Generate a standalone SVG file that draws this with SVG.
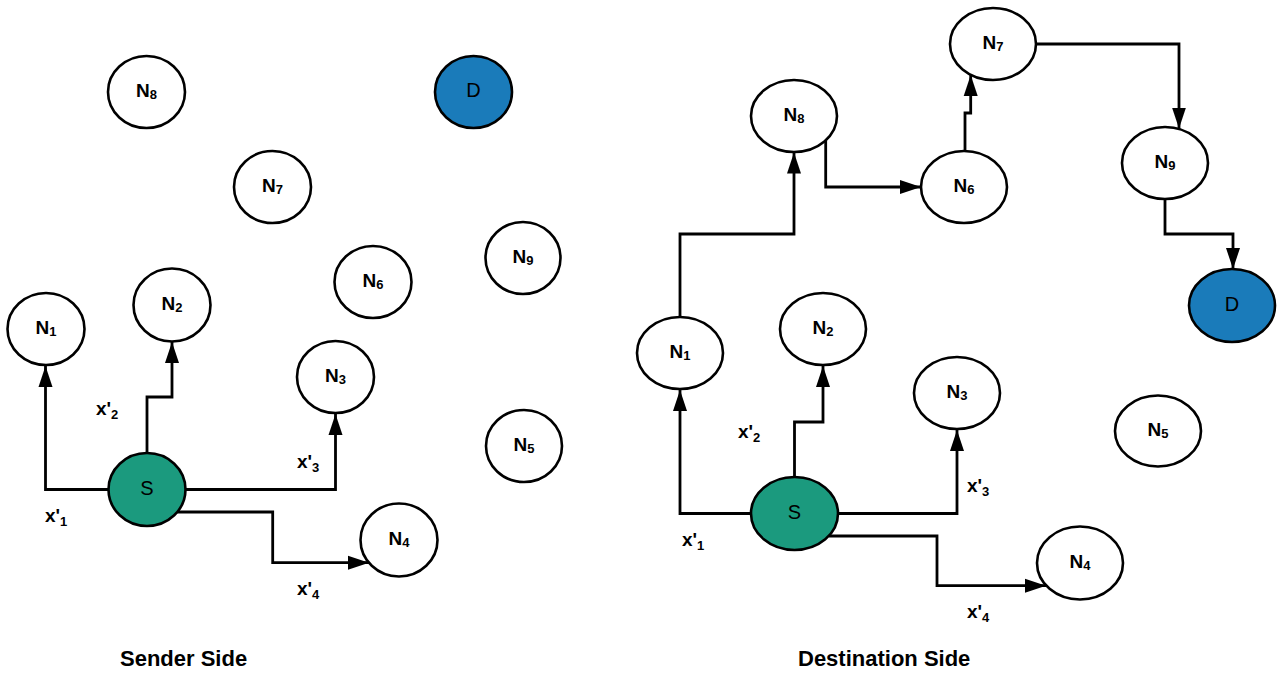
<svg xmlns="http://www.w3.org/2000/svg" width="1280" height="673" viewBox="0 0 1280 673">
<style>
.n{fill:#fff;stroke:#000;stroke-width:2.6}
.s{fill:#1b9a7e;stroke:#000;stroke-width:2.6}
.d{fill:#1a7bba;stroke:#000;stroke-width:2.6}
.t{font-family:"Liberation Sans",Arial,sans-serif;font-weight:bold;font-size:19px;fill:#000}
.t tspan.sub{font-size:13px}
.r{font-family:"Liberation Sans",Arial,sans-serif;font-size:20px;fill:#000}
.c{fill:none;stroke:#000;stroke-width:2.8;marker-end:url(#ah)}
.title{font-family:"Liberation Sans",Arial,sans-serif;font-weight:bold;font-size:22px;fill:#000}
</style>
<defs>
<marker id="ah" markerUnits="userSpaceOnUse" markerWidth="22" markerHeight="16" refX="21" refY="7" orient="auto" viewBox="0 0 22 14">
<path d="M0,0 L21,7 L0,14 z" fill="#000"/>
</marker>
</defs>
<rect width="1280" height="673" fill="#fff"/>

<g id="connectors">
<polyline class="c" points="109,489.5 45.5,489.5 45.5,366"/>
<polyline class="c" points="147,453 147,397 172,397 172,342"/>
<polyline class="c" points="185.5,489.5 335.5,489.5 335.5,414"/>
<polyline class="c" points="177.3,512 272.7,512 272.7,562.7 369,562.7"/>
<polyline class="c" points="751,513.5 680,513.5 680,390"/>
<polyline class="c" points="680,317 680,234 794,234 794,152.5"/>
<polyline class="c" points="794.5,477 794.5,422 823,422 823,366"/>
<polyline class="c" points="838,513.5 957,513.5 957,430"/>
<polyline class="c" points="828.7,536 937,536 937,585.7 1046,585.7"/>
<polyline class="c" points="825.7,138 825.7,187 921,187"/>
<polyline class="c" points="965,151 965,113 970.7,113 970.7,75"/>
<polyline class="c" points="1036,44 1179,44 1179,128.5"/>
<polyline class="c" points="1165,199 1165,234 1233,234 1233,269"/>
</g>

<g id="L-N8"><ellipse class="n" cx="146.5" cy="92" rx="38.5" ry="36"/><text class="t" x="146.5" y="97" text-anchor="middle">N<tspan class="sub" dy="2">8</tspan></text></g>
<g id="L-D"><ellipse class="d" cx="473.5" cy="92" rx="38.5" ry="36"/><text class="r" x="473.5" y="97" text-anchor="middle">D</text></g>
<g id="L-N7"><ellipse class="n" cx="272.5" cy="187" rx="38.5" ry="36"/><text class="t" x="272.5" y="192" text-anchor="middle">N<tspan class="sub" dy="2">7</tspan></text></g>
<g id="L-N6"><ellipse class="n" cx="373" cy="282" rx="38.5" ry="36"/><text class="t" x="373" y="287" text-anchor="middle">N<tspan class="sub" dy="2">6</tspan></text></g>
<g id="L-N9"><ellipse class="n" cx="523" cy="258" rx="37.5" ry="36"/><text class="t" x="523" y="263" text-anchor="middle">N<tspan class="sub" dy="2">9</tspan></text></g>
<g id="L-N2"><ellipse class="n" cx="172" cy="305" rx="38.5" ry="36.5"/><text class="t" x="172" y="310" text-anchor="middle">N<tspan class="sub" dy="2">2</tspan></text></g>
<g id="L-N1"><ellipse class="n" cx="46" cy="329" rx="38.5" ry="36"/><text class="t" x="46" y="334" text-anchor="middle">N<tspan class="sub" dy="2">1</tspan></text></g>
<g id="L-N3"><ellipse class="n" cx="335.5" cy="377" rx="38.5" ry="36"/><text class="t" x="335.5" y="382" text-anchor="middle">N<tspan class="sub" dy="2">3</tspan></text></g>
<g id="L-S"><ellipse class="s" cx="147" cy="489.5" rx="38.5" ry="36.5"/><text class="r" x="147" y="495" text-anchor="middle">S</text></g>
<g id="L-N4"><ellipse class="n" cx="399" cy="540" rx="38.5" ry="36.5"/><text class="t" x="399" y="545" text-anchor="middle">N<tspan class="sub" dy="2">4</tspan></text></g>
<g id="L-N5"><ellipse class="n" cx="524" cy="446" rx="38" ry="36"/><text class="t" x="524" y="451" text-anchor="middle">N<tspan class="sub" dy="2">5</tspan></text></g>

<g id="R-N1"><ellipse class="n" cx="680" cy="353" rx="43" ry="36"/><text class="t" x="680" y="358" text-anchor="middle">N<tspan class="sub" dy="2">1</tspan></text></g>
<g id="R-N2"><ellipse class="n" cx="823" cy="329" rx="43" ry="36"/><text class="t" x="823" y="334" text-anchor="middle">N<tspan class="sub" dy="2">2</tspan></text></g>
<g id="R-N3"><ellipse class="n" cx="957" cy="393" rx="43" ry="36"/><text class="t" x="957" y="398" text-anchor="middle">N<tspan class="sub" dy="2">3</tspan></text></g>
<g id="R-S"><ellipse class="s" cx="794.5" cy="513.5" rx="43.5" ry="36.5"/><text class="r" x="794.5" y="519" text-anchor="middle">S</text></g>
<g id="R-N4"><ellipse class="n" cx="1080" cy="563" rx="43" ry="36.5"/><text class="t" x="1080" y="568" text-anchor="middle">N<tspan class="sub" dy="2">4</tspan></text></g>
<g id="R-N5"><ellipse class="n" cx="1158" cy="431" rx="43" ry="35.5"/><text class="t" x="1158" y="436" text-anchor="middle">N<tspan class="sub" dy="2">5</tspan></text></g>
<g id="R-N8"><ellipse class="n" cx="794" cy="116" rx="43" ry="36"/><text class="t" x="794" y="121" text-anchor="middle">N<tspan class="sub" dy="2">8</tspan></text></g>
<g id="R-N6"><ellipse class="n" cx="964" cy="187" rx="43" ry="36"/><text class="t" x="964" y="192" text-anchor="middle">N<tspan class="sub" dy="2">6</tspan></text></g>
<g id="R-N7"><ellipse class="n" cx="993" cy="44" rx="43" ry="36"/><text class="t" x="993" y="49" text-anchor="middle">N<tspan class="sub" dy="2">7</tspan></text></g>
<g id="R-N9"><ellipse class="n" cx="1165" cy="163" rx="43" ry="36"/><text class="t" x="1165" y="168" text-anchor="middle">N<tspan class="sub" dy="2">9</tspan></text></g>
<g id="R-D"><ellipse class="d" cx="1232" cy="305.5" rx="43" ry="36.5"/><text class="r" x="1232" y="311" text-anchor="middle">D</text></g>

<g id="labels">
<text class="t" x="45" y="522">x'<tspan class="sub" dy="4">1</tspan></text>
<text class="t" x="96" y="415">x'<tspan class="sub" dy="4">2</tspan></text>
<text class="t" x="297" y="468">x'<tspan class="sub" dy="4">3</tspan></text>
<text class="t" x="297" y="595">x'<tspan class="sub" dy="4">4</tspan></text>
<text class="t" x="682" y="546">x'<tspan class="sub" dy="4">1</tspan></text>
<text class="t" x="738" y="438">x'<tspan class="sub" dy="4">2</tspan></text>
<text class="t" x="967" y="492">x'<tspan class="sub" dy="4">3</tspan></text>
<text class="t" x="967" y="618">x'<tspan class="sub" dy="4">4</tspan></text>
<text class="title" x="120" y="666">Sender Side</text>
<text class="title" x="798" y="666">Destination Side</text>
</g>
</svg>
